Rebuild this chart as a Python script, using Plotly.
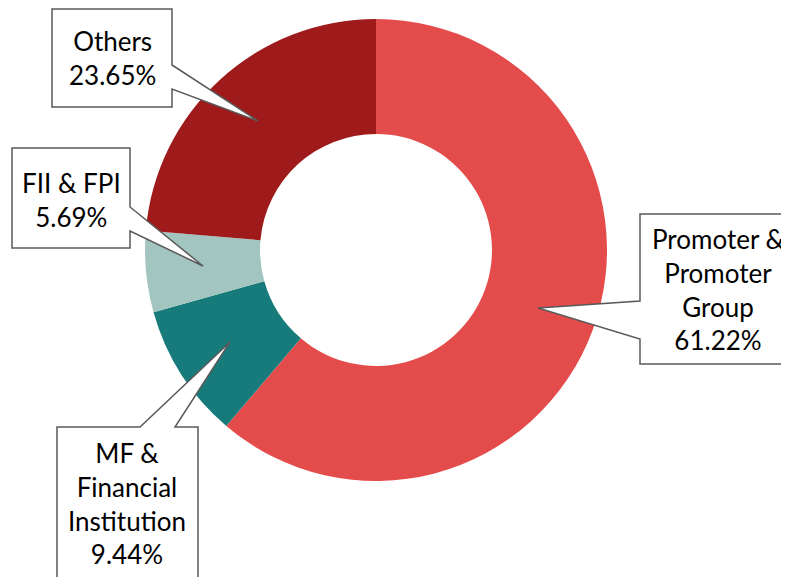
import plotly.graph_objects as go

# The page body has an 8px margin, so the figure is drawn at (8, 8).
OFF = 8
W, H = 789 - OFF, 577 - OFF

categories = ["Promoter &<br>Promoter<br>Group", "MF &<br>Financial<br>Institution", "FII & FPI", "Others"]
values = [61.22, 9.44, 5.69, 23.65]
colors = ["#E44C4C", "#177B7C", "#A3C5BF", "#9E1A1B"]


def px(x):
    return (x - OFF) / W


def py(y):
    return 1 - (y - OFF) / H


def path(points):
    return "M " + " L ".join(f"{px(x):.5f},{py(y):.5f}" for x, y in points) + " Z"


fig = go.Figure()
fig.add_trace(go.Pie(
    labels=categories,
    values=values,
    marker=dict(colors=colors, line=dict(width=0)),
    hole=0.502,
    sort=False,
    direction="clockwise",
    rotation=0,
    textinfo="none",
    hoverinfo="label+percent",
    showlegend=False,
    domain=dict(x=[px(145), px(607)], y=[py(481), py(19)]),
))

# callout outlines (box + pointer), pixel positions in the page
callouts = [
    [(52, 9), (172, 9), (172, 65), (258, 121), (172, 89), (172, 107), (52, 107)],
    [(12, 148), (130, 148), (130, 207), (203, 266), (130, 231), (130, 248), (12, 248)],
    [(57, 427), (140, 427), (230, 342), (175, 427), (198, 427), (198, 600), (57, 600)],
    [(640, 214), (800, 214), (800, 364), (640, 364), (640, 339), (538, 308), (640, 301)],
]
for pts in callouts:
    fig.add_shape(type="path", path=path(pts), xref="paper", yref="paper",
                  fillcolor="white", line=dict(color="#595959", width=1.5), layer="above")

label_pos = [(718, 289), (127, 503), (71, 200), (112, 58)]
for cat, v, (x, y) in zip(categories, values, label_pos):
    fig.add_annotation(x=px(x), y=py(y), xref="paper", yref="paper",
                       text=f"{cat}<br>{v:.2f}%", showarrow=False,
                       xanchor="center", yanchor="middle", align="center",
                       font=dict(family="Lato, Open Sans, sans-serif", size=26, color="#000000"))

fig.update_layout(
    width=W, height=H,
    margin=dict(l=0, r=0, t=0, b=0),
    paper_bgcolor="white",
    plot_bgcolor="white",
)

fig.write_html("out.html")
